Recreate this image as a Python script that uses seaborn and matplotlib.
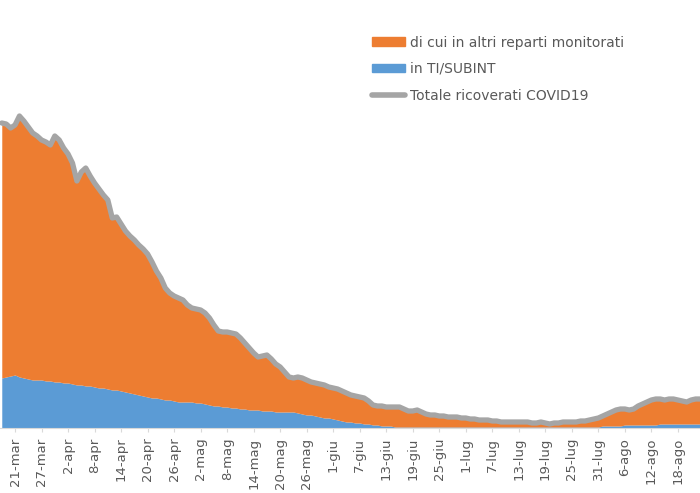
import pandas as pd
import matplotlib.pyplot as plt
import seaborn as sns
from matplotlib.patches import Patch
from matplotlib.lines import Line2D

# 1. stile
sns.set_style('white')
plt.rcParams['font.family'] = ['DejaVu Sans']

# 2. dati giornalieri a partire dal 18-mar
totale = [
    3050, 3040, 3000, 3030, 3120, 3070, 3010, 2950, 2920, 2880,
    2860, 2830, 2920, 2880, 2800, 2740, 2650, 2470, 2560, 2600,
    2520, 2450, 2390, 2330, 2280, 2100, 2110, 2040, 1970, 1920,
    1880, 1830, 1790, 1740, 1660, 1570, 1500, 1400, 1350, 1320,
    1300, 1280, 1230, 1200, 1190, 1180, 1150, 1100, 1030, 970,
    960, 960, 950, 940, 900, 850, 800, 750, 710, 720,
    730, 690, 640, 610, 560, 510, 500, 510, 500, 480,
    460, 450, 440, 430, 410, 400, 390, 370, 350, 330,
    320, 310, 300, 270, 230, 220, 220, 210, 210, 210,
    210, 190, 170, 170, 180, 160, 140, 130, 130, 120,
    120, 110, 110, 110, 100, 100, 90, 90, 80, 80,
    80, 70, 70, 60, 60, 60, 60, 60, 60, 60,
    50, 50, 60, 50, 40, 50, 50, 60, 60, 60,
    60, 70, 70, 80, 90, 100, 120, 140, 160, 180,
    190, 190, 180, 190, 220, 240, 260, 280, 290, 290,
    280, 290, 290, 280, 270, 260, 280, 290, 290,
]
ti_subint = [
    500, 510, 520, 530, 510, 500, 490, 480, 480, 480,
    470, 470, 460, 460, 450, 450, 440, 430, 430, 420,
    420, 410, 400, 400, 390, 380, 380, 370, 360, 350,
    340, 330, 320, 310, 300, 300, 290, 280, 280, 270,
    260, 260, 260, 260, 250, 250, 240, 230, 220, 220,
    210, 210, 200, 200, 190, 190, 180, 180, 180, 170,
    170, 170, 160, 160, 160, 160, 160, 150, 140, 130,
    130, 120, 110, 100, 100, 90, 80, 70, 60, 60,
    50, 50, 40, 40, 30, 30, 20, 20, 20, 10,
    10, 10, 10, 10, 10, 10, 10, 10, 10, 10,
    10, 10, 10, 10, 10, 10, 10, 10, 10, 10,
    10, 10, 10, 10, 10, 10, 10, 10, 10, 10,
    10, 10, 10, 10, 10, 10, 10, 10, 10, 10,
    10, 10, 10, 10, 10, 10, 20, 20, 20, 20,
    20, 30, 30, 30, 30, 30, 30, 30, 30, 40,
    40, 40, 40, 40, 40, 40, 40, 40, 40,
]
tick_labels = [
    '21-mar', '27-mar', '2-apr', '8-apr', '14-apr', '20-apr', '26-apr',
    '2-mag', '8-mag', '14-mag', '20-mag', '26-mag', '1-giu', '7-giu',
    '13-giu', '19-giu', '25-giu', '1-lug', '7-lug', '13-lug', '19-lug',
    '25-lug', '31-lug', '6-ago', '12-ago', '18-ago',
]

df = pd.DataFrame({'giorno': range(len(totale)), 'totale': totale, 'ti': ti_subint})
df['altri'] = df['totale'] - df['ti']

# 3. grafico
fig = plt.figure(figsize=(7, 4.93), dpi=100)
ax = fig.add_axes([0, 65 / 493, 1, 428 / 493])

ax.stackplot(df['giorno'], df['ti'], df['altri'],
             colors=['#5B9BD5', '#ED7D31'], linewidth=0)
sns.lineplot(data=df, x='giorno', y='totale', ax=ax, color='#A5A5A5',
             linewidth=3.8, legend=False)

ax.set_xlim(-0.4, 158)
ax.set_ylim(0, 4280)
ax.set_xlabel('')
ax.set_ylabel('')
ax.set_yticks([])
ax.set_xticks(range(3, 3 + 6 * len(tick_labels), 6))
ax.set_xticklabels(tick_labels, rotation=90, fontsize=9.5, color='#595959')
ax.tick_params(axis='x', length=3, width=0.8, color='#d9d9d9', pad=4, bottom=True)
for s in ['top', 'left', 'right']:
    ax.spines[s].set_visible(False)
ax.spines['bottom'].set_color('#d9d9d9')

# legenda
handles = [
    Patch(color='#ED7D31'),
    Patch(color='#5B9BD5'),
    Line2D([], [], color='#A5A5A5', linewidth=4),
]
labels = ['di cui in altri reparti monitorati', 'in TI/SUBINT', 'Totale ricoverati COVID19']
fig.legend(handles, labels, loc='upper left', bbox_to_anchor=(359 / 700, 1 - 23 / 493),
           frameon=False, fontsize=10, handlelength=2.4, handleheight=0.58,
           labelspacing=0.9, handletextpad=0.4, labelcolor='#595959')

fig.savefig('out.png', dpi=100)
